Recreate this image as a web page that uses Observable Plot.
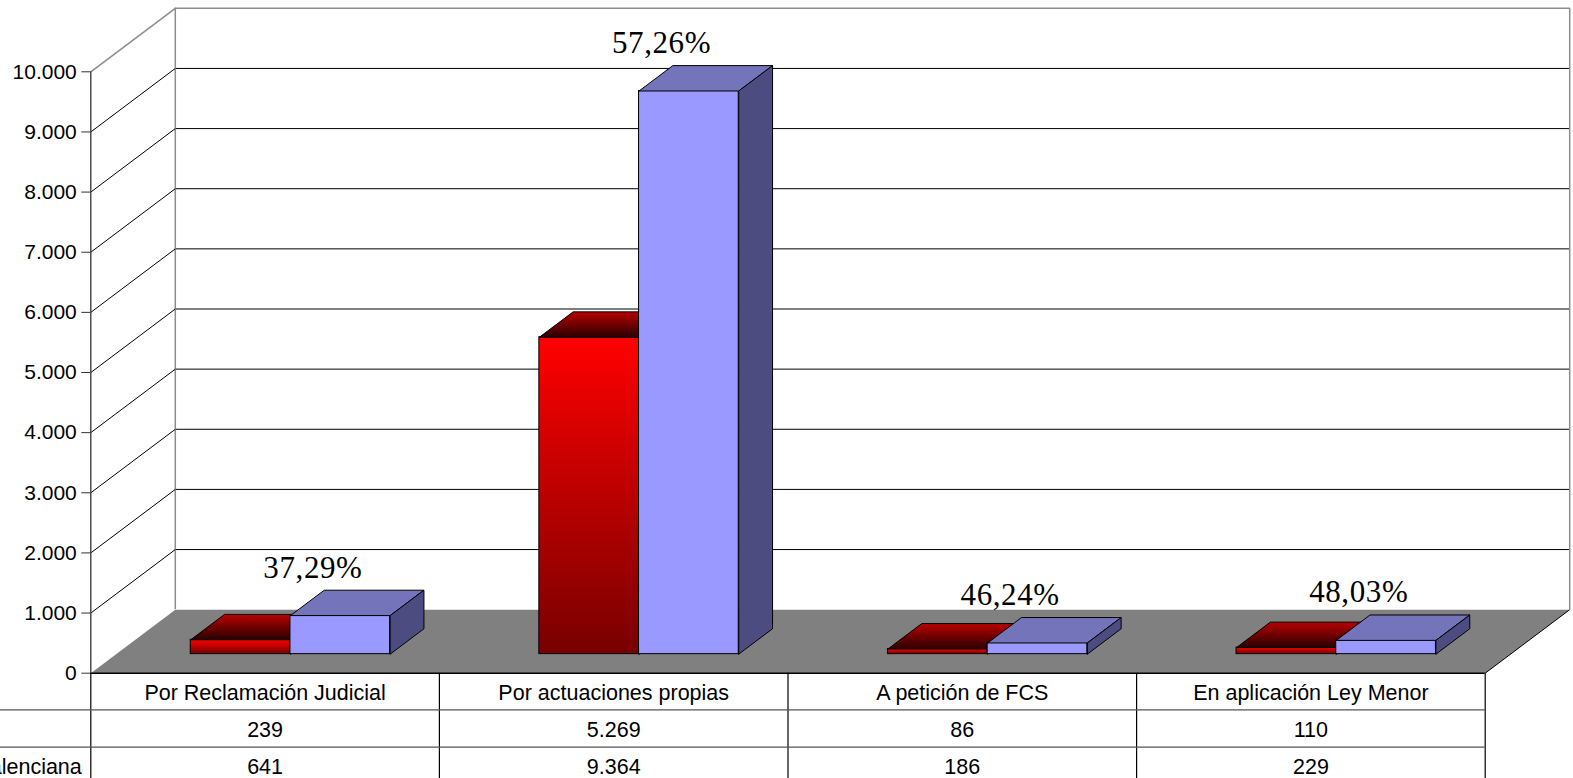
<!DOCTYPE html>
<html><head><meta charset="utf-8">
<script src="https://cdn.jsdelivr.net/npm/d3@7"></script>
<script src="https://cdn.jsdelivr.net/npm/@observablehq/plot@0.6"></script>
<style>html,body{margin:0;padding:0;background:#fff;} #chart{width:1573px;height:778px;overflow:hidden;}</style>
</head><body><div id="chart"></div>
<script>
(function () {
// ---- data ----
const categories = ["Por Reclamación Judicial", "Por actuaciones propias", "A petición de FCS", "En aplicación Ley Menor"];
const seriesNames = ["", "Comunidad Valenciana"];
const serieA = [239, 5269, 86, 110];
const serieB = [641, 9364, 186, 229];
const percentLabels = ["37,29%", "57,26%", "46,24%", "48,03%"];
const yTicks = [0, 1000, 2000, 3000, 4000, 5000, 6000, 7000, 8000, 9000, 10000];

// ---- layout ----
const W = 1573, H = 778;
const padL = 90.3, padR = 1484.7, padT = 71.3, padB = 672.7;
const n = categories.length;
const pxX = (padR - padL) / n, pxY = (padB - padT) / 10000;
const depthPx = [84.5, -63.5];
const DXu = depthPx[0] / pxX, DYu = -depthPx[1] / pxY;   // depth vector in data units
const f0 = 0.3, f1 = 0.7;                                 // bar depth range
const gap = 0.214, bw = 0.286;                            // bar layout within band
const yBottom = -(H - padB) / pxY;

const es = d3.formatLocale({decimal: ",", thousands: ".", grouping: [3], currency: ["", "€"]});
const fmt = es.format(",d");

const P = (x, y, f) => ({x: x + f * DXu, y: y + f * DYu});
const series = [serieA, serieB];
const bars = [];
series.forEach((vals, s) => vals.forEach((v, i) => {
  const x1 = i + gap + s * bw, x2 = x1 + bw;
  bars.push({i, s, v, x1, x2});
}));
function polys(list, fn) {
  const out = [];
  list.forEach((b, k) => {
    const pts = fn(b);
    pts.push(pts[0]);
    pts.forEach(p => out.push({id: k, x: p.x, y: p.y}));
  });
  return out;
}
const fronts = s => bars.filter(b => b.s === s);
const topFace = b => [P(b.x1, b.v, f0), P(b.x2, b.v, f0), P(b.x2, b.v, f1), P(b.x1, b.v, f1)];
const sideFace = b => [P(b.x2, 0, f0), P(b.x2, b.v, f0), P(b.x2, b.v, f1), P(b.x2, 0, f1)];
const floor = polys([{}], () => [P(0, 0, 0), P(n, 0, 0), P(n, 0, 1), P(0, 0, 1)]);

const innerTicks = yTicks.filter(t => t > 0 && t < 10000);
const barStroke = {stroke: "#000", strokeWidth: 1, strokeLinejoin: "miter"};

const svg = Plot.plot({
  width: W, height: H,
  marginLeft: padL, marginRight: W - padR, marginTop: padT, marginBottom: H - padB,
  x: {type: "linear", domain: [0, n], axis: null},
  y: {type: "linear", domain: [0, 10000], axis: null},
  style: {fontFamily: "Liberation Sans, Arial, sans-serif", fontSize: "21px", color: "#000", background: "#fff"},
  marks: [
    // back wall
    Plot.rect([0], {x1: DXu, x2: n + DXu, y1: DYu, y2: 10000 + DYu, fill: "#fff"}),
    Plot.ruleY(innerTicks, {x1: DXu, x2: n + DXu, y: d => d + DYu, stroke: "#000", strokeWidth: 1}),
    Plot.ruleY([10000], {x1: DXu, x2: n + DXu, y: d => d + DYu, stroke: "#8c8c8c", strokeWidth: 1.5}),
    Plot.ruleX([0, n], {x: d => d + DXu, y1: DYu, y2: 10000 + DYu, stroke: "#8c8c8c", strokeWidth: 1.5}),
    // side wall
    Plot.link(innerTicks, {x1: 0, y1: d => d, x2: DXu, y2: d => d + DYu, stroke: "#000", strokeWidth: 1}),
    Plot.link([10000], {x1: 0, y1: d => d, x2: DXu, y2: d => d + DYu, stroke: "#8c8c8c", strokeWidth: 1.5}),
    // floor
    Plot.line(floor, {x: "x", y: "y", z: "id", fill: "#808080", stroke: "none"}),
    Plot.link([0], {x1: n, y1: 0, x2: n + DXu, y2: DYu, stroke: "#000", strokeWidth: 1}),
    // red bars
    Plot.rect(fronts(0), {x1: d => d.x1 + f0 * DXu, x2: d => d.x2 + f0 * DXu, y1: f0 * DYu, y2: d => d.v + f0 * DYu, fill: "url(#redFront)", ...barStroke}),
    Plot.line(polys(fronts(0), sideFace), {x: "x", y: "y", z: "id", fill: "#5a0000", ...barStroke}),
    Plot.line(polys(fronts(0), topFace), {x: "x", y: "y", z: "id", fill: "url(#redTop)", ...barStroke}),
    // blue bars
    Plot.rect(fronts(1), {x1: d => d.x1 + f0 * DXu, x2: d => d.x2 + f0 * DXu, y1: f0 * DYu, y2: d => d.v + f0 * DYu, fill: "#9999ff", ...barStroke}),
    Plot.line(polys(fronts(1), topFace), {x: "x", y: "y", z: "id", fill: "#7474bb", ...barStroke}),
    Plot.line(polys(fronts(1), sideFace), {x: "x", y: "y", z: "id", fill: "#4c4c80", ...barStroke}),
    // front y axis
    Plot.ruleX([0], {y1: 0, y2: 10000, stroke: "#333", strokeWidth: 1.3}),
    Plot.axisY({ticks: yTicks, tickFormat: fmt, tickSize: 9, tickPadding: 5, fontSize: 21, stroke: "#333", label: null}),
    // data table
    Plot.ruleX(d3.range(n + 1), {x: d => d, y1: 0, y2: yBottom, stroke: "#000", strokeWidth: 1.2}),
    Plot.ruleY([0], {x1: 0, x2: n, stroke: "#000", strokeWidth: 1.6}),
    Plot.ruleY([0], {x1: -1, x2: n, dy: 36.6, stroke: "#555", strokeWidth: 1.2}),
    Plot.ruleY([0], {x1: -1, x2: n, dy: 74, stroke: "#555", strokeWidth: 1.2}),
    Plot.text(categories, {x: (d, i) => i + 0.5, y: 0, dy: 19.5, text: d => d, fontSize: 21.5}),
    Plot.text(serieA, {x: (d, i) => i + 0.5, y: 0, dy: 57.3, text: d => fmt(d), fontSize: 21.5}),
    Plot.text(serieB, {x: (d, i) => i + 0.5, y: 0, dy: 94, text: d => fmt(d), fontSize: 21.5}),
    Plot.text(seriesNames.slice(1), {x: 0, y: 0, dx: -9, dy: 94, text: d => d, textAnchor: "end", fontSize: 21.5}),
    // percentage labels
    Plot.text(percentLabels, {x: (d, i) => i + gap + 1.5 * bw, y: (d, i) => serieB[i], dx: -2, dy: -57, lineAnchor: "bottom", text: d => d, fontFamily: "Liberation Serif", fontSize: 31})
  ]
});

const sel = d3.select(svg);
const defs = sel.insert("defs", ":first-child");
const g1 = defs.append("linearGradient").attr("id", "redFront").attr("x1", 0).attr("y1", 0).attr("x2", 0).attr("y2", 1);
g1.append("stop").attr("offset", 0).attr("stop-color", "#ff0000");
g1.append("stop").attr("offset", 1).attr("stop-color", "#780000");
const g2 = defs.append("linearGradient").attr("id", "redTop").attr("x1", 0).attr("y1", 0).attr("x2", 0).attr("y2", 1);
g2.append("stop").attr("offset", 0).attr("stop-color", "#b80000");
g2.append("stop").attr("offset", 1).attr("stop-color", "#2a0000");
sel.selectAll('g[font-family="Liberation Serif"]').attr("letter-spacing", "0.6px");
document.getElementById("chart").appendChild(svg);
})();
</script>
</body></html>
